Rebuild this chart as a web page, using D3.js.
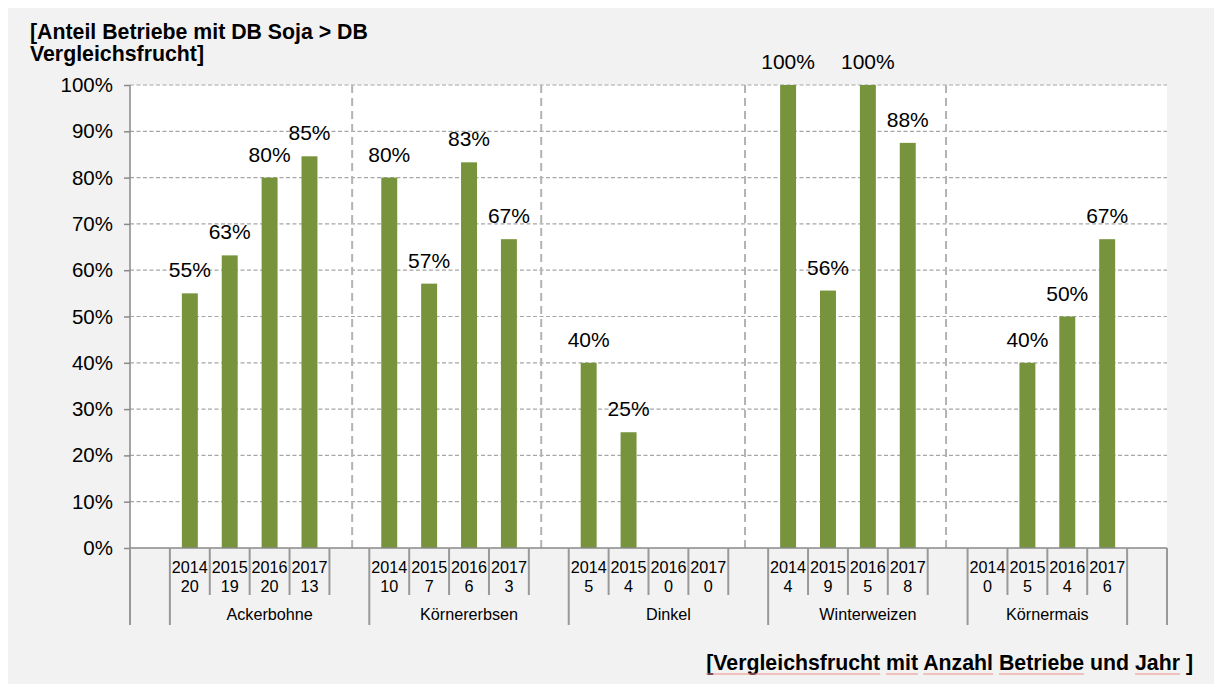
<!DOCTYPE html>
<html>
<head>
<meta charset="utf-8">
<script src="https://cdn.jsdelivr.net/npm/d3@7"></script>
<style>
  html, body { margin: 0; padding: 0; background: #ffffff; }
  svg { display: block; font-family: "Liberation Sans", Arial, sans-serif; }
</style>
</head>
<body>
<svg id="chart" width="1214" height="684"></svg>
<script>
// Crops compared against soy, survey years and farm counts per year
const crops = ["Ackerbohne", "Körnererbsen", "Dinkel", "Winterweizen", "Körnermais"];
const years = ["2014", "2015", "2016", "2017"];
const farmCounts = [
  [20, 19, 20, 13],
  [10, 7, 6, 3],
  [5, 4, 0, 0],
  [4, 9, 5, 8],
  [0, 5, 4, 6]
];
// Share of farms where soy margin exceeds the comparison crop
const shares = [
  [0.55, 0.632, 0.80, 0.846],
  [0.80, 0.571, 0.833, 0.667],
  [0.40, 0.25, 0, 0],
  [1.00, 0.556, 1.00, 0.875],
  [0, 0.40, 0.50, 0.667]
];
const yTicks = [0, 0.1, 0.2, 0.3, 0.4, 0.5, 0.6, 0.7, 0.8, 0.9, 1.0];
// Dashed separators between crop blocks, in category-slot units
const dividerSlots = [5.57, 10.31, 15.42, 20.46];

const titleTop = ["[Anteil Betriebe mit DB Soja > DB", "Vergleichsfrucht]"];
const titleBottomWords = ["[Vergleichsfrucht", "mit", "Anzahl", "Betriebe", "und", "Jahr", "]"];
const flaggedWords = ["[Vergleichsfrucht", "mit", "Anzahl", "Betriebe", "Jahr"];

// Build the category slots: a leading blank group, each crop's years
// (plus a spacer slot, except after the last crop) and a trailing blank group.
const slots = [];
const groups = [];
slots.push({ id: "lead", group: "" });
groups.push({ name: "", start: 0, n: 1 });
crops.forEach((crop, ci) => {
  const start = slots.length;
  years.forEach((yr, yi) => {
    slots.push({ id: crop + yr, group: crop, year: yr, count: farmCounts[ci][yi], value: shares[ci][yi] });
  });
  if (ci < crops.length - 1) slots.push({ id: crop + "-gap", group: crop });
  groups.push({ name: crop, start, n: slots.length - start });
});
slots.push({ id: "tail", group: "" });
groups.push({ name: "", start: slots.length - 1, n: 1 });

const svg = d3.select("#chart");
const W = 1214, H = 684;
const plot = { left: 130, right: 1167, top: 85, bottom: 548 };

// Panel background
svg.append("rect").attr("x", 8).attr("y", 8).attr("width", W - 8).attr("height", H - 8).attr("fill", "#f2f2f2");
svg.append("rect")
  .attr("x", plot.left).attr("y", plot.top)
  .attr("width", plot.right - plot.left).attr("height", plot.bottom - plot.top)
  .attr("fill", "#ffffff");

const x = d3.scaleBand().domain(slots.map(d => d.id)).range([plot.left, plot.right]).padding(0);
const slotX = d3.scaleLinear().domain([0, slots.length]).range([plot.left, plot.right]);
const y = d3.scaleLinear().domain([0, 1]).range([plot.bottom, plot.top]);
const fmt = d3.format(".0%");

// Horizontal gridlines
svg.append("g").selectAll("line").data(yTicks.filter(t => t > 0)).join("line")
  .attr("x1", plot.left).attr("x2", plot.right)
  .attr("y1", d => y(d)).attr("y2", d => y(d))
  .attr("stroke", "#a6a6a6").attr("stroke-width", 1.2).attr("stroke-dasharray", "4 2.5");

// Vertical dashed separators
svg.append("g").selectAll("line").data(dividerSlots).join("line")
  .attr("x1", d => slotX(d)).attr("x2", d => slotX(d))
  .attr("y1", plot.top).attr("y2", plot.bottom)
  .attr("stroke", "#b3b3b3").attr("stroke-width", 2).attr("stroke-dasharray", "8 5");

// Y axis
const yAxis = d3.axisLeft(y).tickValues(yTicks).tickFormat(fmt).tickSize(6).tickPadding(11);
const yg = svg.append("g").attr("transform", `translate(${plot.left},0)`).call(yAxis);
yg.select(".domain").attr("stroke", "#898989").attr("stroke-width", 1.5).attr("d", `M0,${plot.top}V${plot.bottom}`);
yg.selectAll(".tick line").attr("stroke", "#898989").attr("stroke-width", 1.5);
yg.selectAll(".tick text").attr("font-size", "20.5px").attr("fill", "#000").attr("font-family", "Liberation Sans, Arial, sans-serif");

// Bars
const bw = x.bandwidth() * 0.4;
const barSlots = slots.filter(d => d.value !== undefined);
svg.append("g").selectAll("rect").data(barSlots).join("rect")
  .attr("x", d => x(d.id) + (x.bandwidth() - bw) / 2)
  .attr("width", bw)
  .attr("y", d => y(d.value))
  .attr("height", d => y(0) - y(d.value))
  .attr("fill", "#77933c");

// Value labels
svg.append("g").selectAll("text").data(barSlots.filter(d => d.value > 0)).join("text")
  .attr("x", d => x(d.id) + x.bandwidth() / 2)
  .attr("y", d => y(d.value) - 16)
  .attr("text-anchor", "middle")
  .attr("font-size", "21px")
  .attr("fill", "#000")
  .text(d => fmt(d.value));

// X axis baseline
svg.append("line")
  .attr("x1", plot.left).attr("x2", plot.right)
  .attr("y1", plot.bottom).attr("y2", plot.bottom)
  .attr("stroke", "#898989").attr("stroke-width", 1.5);

// Inner category ticks (years/counts) and outer group ticks
const axisG = svg.append("g").attr("stroke", "#999999").attr("stroke-width", 2);
const groupEdges = new Set();
groups.forEach(g => { groupEdges.add(g.start); groupEdges.add(g.start + g.n); });
d3.range(slots.length + 1).forEach(i => {
  axisG.append("line")
    .attr("x1", slotX(i)).attr("x2", slotX(i))
    .attr("y1", plot.bottom).attr("y2", groupEdges.has(i) ? 625 : 595);
});

// Year and farm count labels
const yearSlots = slots.filter(d => d.year);
const lbl = svg.append("g").attr("font-size", "16.2px").attr("fill", "#000").attr("text-anchor", "middle");
lbl.selectAll("text.yr").data(yearSlots).join("text").attr("class", "yr")
  .attr("x", d => x(d.id) + x.bandwidth() / 2).attr("y", 573).text(d => d.year);
lbl.selectAll("text.cnt").data(yearSlots).join("text").attr("class", "cnt")
  .attr("x", d => x(d.id) + x.bandwidth() / 2).attr("y", 592).text(d => d.count);
lbl.selectAll("text.grp").data(groups.filter(g => g.name)).join("text").attr("class", "grp")
  .attr("x", g => slotX(g.start + g.n / 2)).attr("y", 620).text(g => g.name);

// Axis titles
svg.append("text").attr("x", 30).attr("y", 39).attr("font-size", "21.3px").attr("font-weight", "bold").text(titleTop[0]);
svg.append("text").attr("x", 30).attr("y", 61).attr("font-size", "21.3px").attr("font-weight", "bold").text(titleTop[1]);

const bt = svg.append("text").attr("x", 1193).attr("y", 670).attr("text-anchor", "end")
  .attr("font-size", "21.3px").attr("font-weight", "bold");
titleBottomWords.forEach((w, i) => {
  bt.append("tspan").text((i > 0 ? " " : "") + w);
});
// Spell-check style underlines under flagged words
const bbox = bt.node().getBBox();
let cursor = bbox.x;
bt.selectAll("tspan").each(function (d, i) {
  const w = titleBottomWords[i];
  const spaceW = i > 0 ? this.getSubStringLength(0, 1) : 0;
  const len = this.getComputedTextLength();
  if (flaggedWords.includes(w)) {
    svg.append("line")
      .attr("x1", cursor + spaceW).attr("x2", cursor + len)
      .attr("y1", 674).attr("y2", 674)
      .attr("stroke", "#f28c8c").attr("stroke-width", 1.2);
  }
  cursor += len;
});
</script>
</body>
</html>
